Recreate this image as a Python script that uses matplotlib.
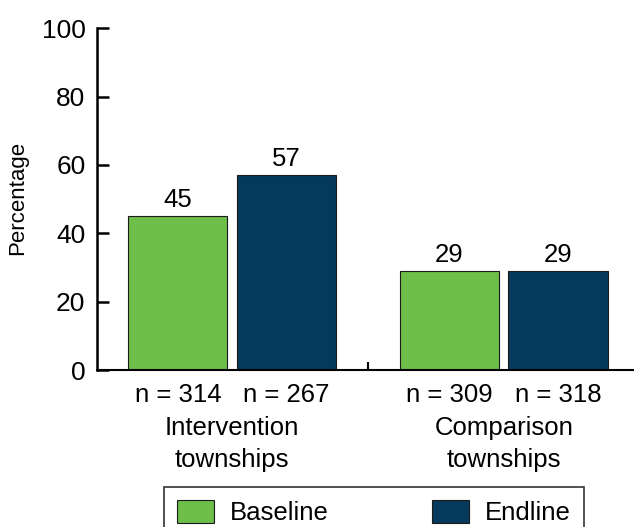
import matplotlib.pyplot as plt
import numpy as np

plt.rcParams["font.family"] = ["Liberation Sans", "DejaVu Sans"]

GROUPS = ["Intervention\ntownships", "Comparison\ntownships"]
SERIES = ["Baseline", "Endline"]
BASELINE = [45, 29]
ENDLINE = [57, 29]
N_BASELINE = [314, 309]
N_ENDLINE = [267, 318]

COLORS = {"Baseline": "#6EBE4A", "Endline": "#053A5C"}
FS = 18.5

fig = plt.figure(figsize=(6.34, 5.27), dpi=100)
ax = fig.add_axes([96.5 / 634, 157 / 527, 1 - 96.5 / 634, (370 - 28.3) / 527])

xs = np.arange(len(GROUPS))
width = 0.365
offset = 0.2

for vals, ns, name, dx in [(BASELINE, N_BASELINE, "Baseline", -offset),
                           (ENDLINE, N_ENDLINE, "Endline", offset)]:
    ax.bar(xs + dx, vals, width, color=COLORS[name], edgecolor="#1a1a1a",
           linewidth=0.8, label=name)
    for x, v, n in zip(xs + dx, vals, ns):
        ax.annotate(f"{v}", (x, v), xytext=(0, 3), textcoords="offset points",
                    ha="center", va="bottom", fontsize=FS)
        ax.annotate(f"n = {n}", (x, 0), xycoords=("data", "axes fraction"),
                    xytext=(0, -23), textcoords="offset points",
                    ha="center", va="baseline", fontsize=FS)

# two-line category labels under each group
for x, label in zip(xs, GROUPS):
    for i, line in enumerate(label.split("\n")):
        ax.annotate(line, (x, 0), xycoords=("data", "axes fraction"),
                    xytext=(0, -47 - 23 * i), textcoords="offset points",
                    ha="center", va="baseline", fontsize=FS)

ax.set_xlim(-0.5, 1.48)
ax.set_ylim(0, 100)
ax.set_yticks(np.arange(0, 101, 20))
ax.tick_params(axis="y", direction="in", length=8.6, width=1.8, pad=8,
               labelsize=19)
ax.set_xticks([0.5])
ax.set_xticklabels([])
ax.tick_params(axis="x", direction="in", length=6, width=1.5)

for side in ["top", "right"]:
    ax.spines[side].set_visible(False)
ax.spines["left"].set_linewidth(1.8)
ax.spines["bottom"].set_linewidth(1.5)

fig.text(18 / 634, 1 - 198 / 527, "Percentage", rotation=90, ha="center",
         va="center", fontsize=16)

leg = fig.legend(loc="upper center", bbox_to_anchor=(374 / 634, 1 - 487 / 527),
                 ncol=2, fontsize=FS, frameon=True, fancybox=False,
                 handlelength=1.45, handleheight=1.0, handletextpad=0.63,
                 columnspacing=4.0, borderpad=0.5, borderaxespad=0)
leg.get_frame().set_edgecolor("black")
leg.get_frame().set_linewidth(1.2)

fig.savefig("out.png", dpi=100)
